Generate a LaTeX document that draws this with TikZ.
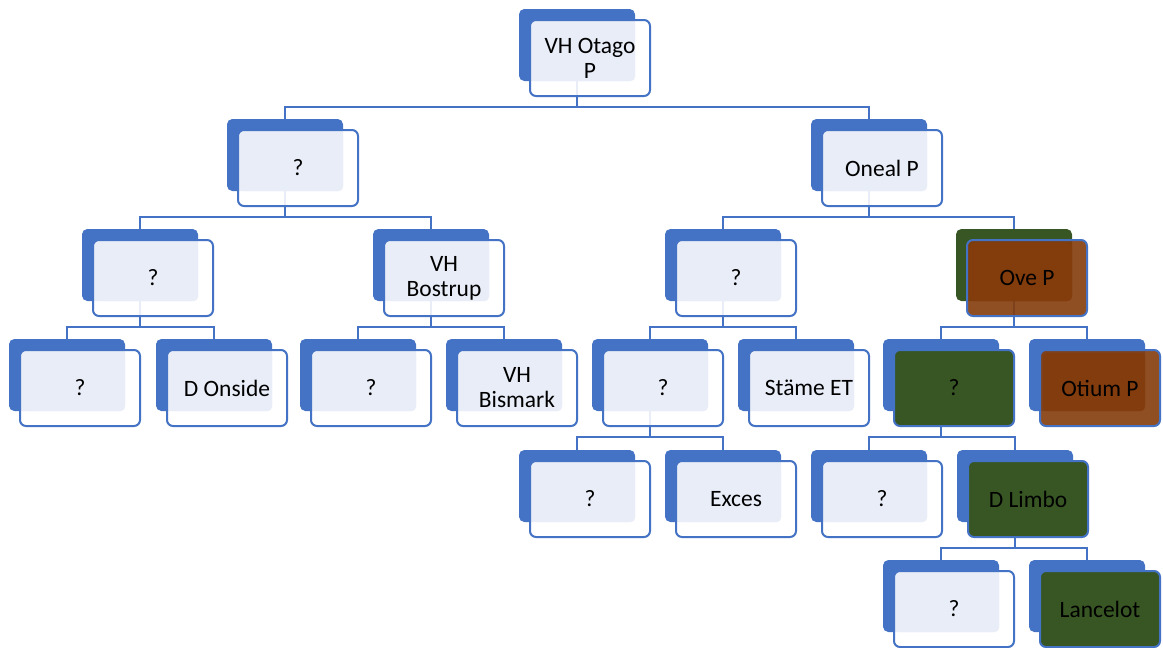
\documentclass[tikz,border=0pt]{standalone}
\usepackage{fontspec}
\setmainfont{Carlito}
\definecolor{orgblue}{HTML}{4472C4}
\definecolor{orglight}{HTML}{E9EDF7}
\definecolor{orggreen}{HTML}{375623}
\definecolor{orgbrown}{HTML}{843C0C}
\pgfdeclarelayer{bg}
\pgfsetlayers{bg,main}
\tikzset{
  backbox/.style={rectangle, rounded corners=4pt, inner sep=0pt,
    minimum width=87pt, minimum height=54pt, fill=orgblue},
  frontbox/.style={rectangle, rounded corners=4.5pt, inner sep=0pt,
    minimum width=90pt, minimum height=57pt, draw=orgblue, line width=1.5pt,
    fill=white, fill opacity=0.88},
  textbox/.style={rectangle, rounded corners=3pt, inner sep=0pt,
    minimum width=76.5pt, minimum height=43.5pt, fill=orglight, fill opacity=0.92},
  labeltext/.style={inner sep=0pt, align=center, text=black,
    font=\fontsize{17.6pt}{18.8pt}\selectfont},
  greenback/.style={fill=orggreen},
  greenfront/.style={fill=orggreen, fill opacity=1},
  greenbox/.style={fill=orggreen, fill opacity=1},
  brownfront/.style={fill=orgbrown, fill opacity=0.9},
  brownbox/.style={fill=orgbrown, fill opacity=0.9},
  conn/.style={draw=orgblue, line width=1.5pt},
}
% #1 name, #2 x, #3 y (top-left of the back card), #4 back, #5 front, #6 box styles, #7 text
\newcommand\orgunit[7]{%
  \node[backbox,#4] (#1b) at (#2+58,#3+36) {};
  \node[frontbox,#5] (#1f) at (#2+71,#3+49) {};
  \node[textbox,#6] (#1) at (#2+65,#3+43) {};
  \node[labeltext] (#1t) at (#2+71,#3+49) {#7};
}
\newcommand\orglink[2]{%
  \draw[conn] (#1b.south) -- ++(0,-19pt) -| (#2b.north);
}
\begin{document}
\begin{tikzpicture}[x=0.75pt, y=-0.75pt]
\useasboundingbox (0,0) rectangle (1163,647);

% level 0
\orgunit{otago}{519}{9}{}{}{}{VH Otago\\P}
% level 1
\orgunit{qa}{227}{119}{}{}{}{?}
\orgunit{oneal}{811}{119}{}{}{}{Oneal P}
% level 2
\orgunit{qb}{82}{229}{}{}{}{?}
\orgunit{bostrup}{373}{229}{}{}{}{VH\\Bostrup}
\orgunit{qc}{665}{229}{}{}{}{?}
\orgunit{ove}{956}{229}{greenback}{brownfront}{brownbox}{Ove P}
% level 3
\orgunit{qd}{9}{339}{}{}{}{?}
\orgunit{onside}{156}{339}{}{}{}{D Onside}
\orgunit{qe}{300}{339}{}{}{}{?}
\orgunit{bismark}{446}{339}{}{}{}{VH\\Bismark}
\orgunit{qf}{592}{339}{}{}{}{?}
\orgunit{stame}{738}{339}{}{}{}{Stäme ET}
\orgunit{qg}{883}{339}{}{greenfront}{greenbox}{?}
\orgunit{otium}{1029}{339}{}{brownfront}{brownbox}{Otium P}
% level 4
\orgunit{qh}{519}{450}{}{}{}{?}
\orgunit{exces}{665}{450}{}{}{}{Exces}
\orgunit{qi}{811}{450}{}{}{}{?}
\orgunit{limbo}{957}{450}{}{greenfront}{greenbox}{D Limbo}
% level 5
\orgunit{qj}{883}{560}{}{}{}{?}
\orgunit{lancelot}{1029}{560}{}{greenfront}{greenbox}{Lancelot}

% white page and connectors, kept behind the cards
\begin{pgfonlayer}{bg}
\fill[white] (0,0) rectangle (1163,647);
\orglink{otago}{qa}
\orglink{otago}{oneal}
\orglink{qa}{qb}
\orglink{qa}{bostrup}
\orglink{oneal}{qc}
\orglink{oneal}{ove}
\orglink{qb}{qd}
\orglink{qb}{onside}
\orglink{bostrup}{qe}
\orglink{bostrup}{bismark}
\orglink{qc}{qf}
\orglink{qc}{stame}
\orglink{ove}{qg}
\orglink{ove}{otium}
\orglink{qf}{qh}
\orglink{qf}{exces}
\orglink{qg}{qi}
\orglink{qg}{limbo}
\orglink{limbo}{qj}
\orglink{limbo}{lancelot}
\end{pgfonlayer}
\end{tikzpicture}
\end{document}
